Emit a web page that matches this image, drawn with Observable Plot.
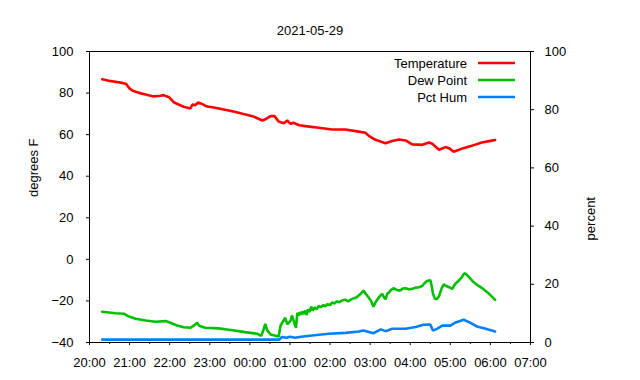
<!DOCTYPE html>
<html><head><meta charset="utf-8">
<script src="https://cdn.jsdelivr.net/npm/d3@7"></script>
<script src="https://cdn.jsdelivr.net/npm/@observablehq/plot@0.6"></script>
<style>body{margin:0;background:#fff;}</style>
</head><body><div id="chart"></div>
<script>
const chartTitle = "2021-05-29";
const seriesNames = ["Temperature", "Dew Point", "Pct Hum"];
const seriesColors = ["#ff0000", "#00c000", "#0080ff"];
const leftLabel = "degrees F";
const rightLabel = "percent";
const leftTicks = [-40, -20, 0, 20, 40, 60, 80, 100];
const rightTicks = [0, 20, 40, 60, 80, 100];
const xStart = "2021-05-29T20:00:00Z";
const xEnd = "2021-05-30T07:00:00Z";

const tempTimes = ["20:19","20:29","20:49","20:55","20:59","21:04","21:14","21:24","21:36","21:46","21:51","21:59","22:06","22:14","22:21","22:31","22:34","22:38","22:43","22:49","22:56","23:08","23:19","23:34","23:49","00:04","00:11","00:19","00:26","00:31","00:37","00:43","00:51","00:56","01:01","01:05","01:14","01:23","01:43","02:03","02:23","02:38","02:53","02:58","03:08","03:23","03:33","03:43","03:53","04:03","04:18","04:28","04:33","04:43","04:53","04:58","05:05","05:17","05:32","05:47","06:00","06:07"];
const tempValues = [86.6,85.9,84.9,84.4,82.5,81.2,80.1,79.3,78.4,78.7,79.0,78.0,75.6,74.4,73.4,72.6,74.5,74.2,75.5,74.7,73.5,72.9,72.2,71.3,70.0,68.9,67.9,66.8,67.9,68.9,68.9,66.3,65.5,66.8,65.2,65.7,64.5,64.1,63.3,62.5,62.5,61.7,60.9,59.4,57.5,55.9,56.9,57.7,57.2,55.3,55.1,56.2,55.6,52.7,54.0,53.5,51.8,53.2,54.6,56.2,57.0,57.4];

const dewTimes = ["20:19","20:39","20:52","20:59","21:09","21:24","21:39","21:54","22:01","22:11","22:21","22:31","22:36","22:41","22:44","22:53","23:13","23:34","23:53","00:11","00:17","00:21","00:23","00:26","00:31","00:43","00:46","00:49","00:53","00:56","01:01","01:03","01:07","01:09","01:11","01:13","01:15","01:17","01:19","01:21","01:23","01:25","01:27","01:29","01:32","01:34","01:37","01:40","01:43","01:46","01:50","01:53","01:56","02:00","02:03","02:07","02:10","02:14","02:18","02:23","02:27","02:31","02:35","02:39","02:43","02:47","02:50","02:53","02:56","03:01","03:05","03:08","03:12","03:16","03:18","03:21","03:23","03:26","03:28","03:31","03:35","03:39","03:43","03:46","03:49","03:53","03:58","04:03","04:08","04:13","04:18","04:21","04:25","04:30","04:32","04:34","04:37","04:40","04:43","04:47","04:50","04:54","04:58","05:03","05:06","05:10","05:14","05:17","05:20","05:22","05:25","05:28","05:33","05:38","05:43","05:47","05:52","05:58","06:03","06:07"];
const dewValues = [-25.2,-25.9,-26.2,-27.5,-28.6,-29.4,-30.0,-29.7,-30.5,-31.8,-32.7,-32.9,-31.9,-30.5,-31.9,-32.9,-33.2,-34.1,-35.0,-35.8,-36.8,-33.4,-31.0,-34.2,-36.1,-37.1,-31.8,-30.2,-28.1,-31.3,-29.4,-27.0,-31.0,-33.0,-25.8,-27.0,-25.4,-26.6,-25.0,-26.2,-24.6,-26.8,-24.0,-25.4,-22.8,-24.6,-23.2,-24.0,-22.4,-23.0,-22.0,-22.6,-21.6,-22.0,-20.8,-21.2,-20.2,-20.6,-19.8,-19.4,-20.2,-19.4,-18.8,-18.4,-17.4,-16.2,-15.0,-16.5,-17.6,-19.8,-22.8,-20.6,-18.8,-17.2,-16.6,-18.4,-19.2,-16.4,-16.0,-14.8,-13.9,-14.6,-15.0,-14.8,-14.0,-13.9,-14.4,-14.2,-13.6,-13.4,-12.8,-11.6,-10.4,-10.0,-12.5,-16.5,-19.0,-19.0,-17.8,-14.0,-12.1,-12.8,-13.4,-14.2,-12.4,-11.0,-9.8,-8.6,-7.2,-6.6,-7.6,-8.6,-10.4,-11.8,-12.9,-13.7,-15.0,-16.6,-18.2,-19.5];

const humTimes = ["20:19","00:44","00:48","00:55","01:00","01:08","01:14","01:33","01:58","02:23","02:43","02:50","03:05","03:16","03:23","03:33","03:53","04:08","04:20","04:30","04:34","04:40","04:48","05:00","05:08","05:20","05:28","05:40","05:53","06:07"];
const humValues = [1.0,1.0,1.9,1.6,2.0,1.6,1.9,2.4,3.0,3.3,3.8,4.1,3.2,4.5,3.9,4.7,4.7,5.3,6.1,6.2,4.1,4.7,5.8,5.8,6.9,7.8,7.0,5.5,4.7,3.8];

function toDate(hm) {
  const h = +hm.slice(0, 2);
  return new Date(`${h >= 12 ? "2021-05-29" : "2021-05-30"}T${hm}:00Z`);
}
// map percent (right axis, 0..100) onto the degrees scale (-40..100)
const pctToY = p => -40 + p * 1.4;
const yToPct = y => Math.round((y + 40) / 1.4);

const temp = tempTimes.map((t, i) => ({date: toDate(t), v: tempValues[i]}));
const dew = dewTimes.map((t, i) => ({date: toDate(t), v: dewValues[i]}));
const hum = humTimes.map((t, i) => ({date: toDate(t), v: pctToY(humValues[i])}));

const x0 = new Date(xStart), x1 = new Date(xEnd);
const hourTicks = d3.utcHour.range(x0, new Date(+x1 + 1));
const halfTicks = d3.utcMinute.every(30).range(x0, x1).filter(d => d.getUTCMinutes() === 30);

const plot = Plot.plot({
  width: 640,
  height: 380,
  marginLeft: 89,
  marginRight: 110,
  marginTop: 51,
  marginBottom: 38,
  style: {fontFamily: "'Liberation Sans', Arial, sans-serif", fontSize: "13px", background: "white", color: "black", overflow: "visible"},
  x: {type: "utc", domain: [x0, x1]},
  y: {domain: [-40, 100]},
  marks: [
    Plot.axisY(leftTicks, {anchor: "left", tickSize: 3, tickPadding: 13, label: null}),
    Plot.axisY(rightTicks.map(pctToY), {anchor: "right", tickSize: 3, tickPadding: 11, tickFormat: yToPct, label: null}),
    Plot.axisX(hourTicks, {anchor: "bottom", tickSize: 3, tickPadding: 12, tickFormat: d3.utcFormat("%H:%M"), label: null}),
    Plot.axisX(halfTicks, {anchor: "bottom", tickSize: 2, tickFormat: () => "", label: null}),
    Plot.line(temp, {x: "date", y: "v", stroke: seriesColors[0], strokeWidth: 2.6, strokeLinejoin: "miter"}),
    Plot.line(dew, {x: "date", y: "v", stroke: seriesColors[1], strokeWidth: 2.6, strokeLinejoin: "miter"}),
    Plot.line(hum, {x: "date", y: "v", stroke: seriesColors[2], strokeWidth: 2.6, strokeLinejoin: "miter"}),
    Plot.frame({stroke: "black", strokeWidth: 1}),
    Plot.text([chartTitle], {frameAnchor: "top", dy: -26, text: d => d, fontSize: 13}),
    Plot.text([leftLabel], {frameAnchor: "left", dx: -56, rotate: -90, text: d => d, fontSize: 13}),
    Plot.text([rightLabel], {frameAnchor: "right", dx: 60, rotate: -90, text: d => d, fontSize: 13})
  ]
});

// legend (gnuplot-style, inside top-right)
const svg = d3.select(plot);
const lg = svg.append("g").attr("font-family", "'Liberation Sans', Arial, sans-serif").attr("font-size", 13);
seriesNames.forEach((name, i) => {
  const y = 63 + i * 17;
  lg.append("text").attr("x", 467).attr("y", y).attr("dy", "0.35em").attr("text-anchor", "end").attr("fill", "black").text(name);
  lg.append("line").attr("x1", 478).attr("x2", 515).attr("y1", y).attr("y2", y).attr("stroke", seriesColors[i]).attr("stroke-width", 2.6);
});

document.getElementById("chart").appendChild(plot);
</script>
</body></html>
